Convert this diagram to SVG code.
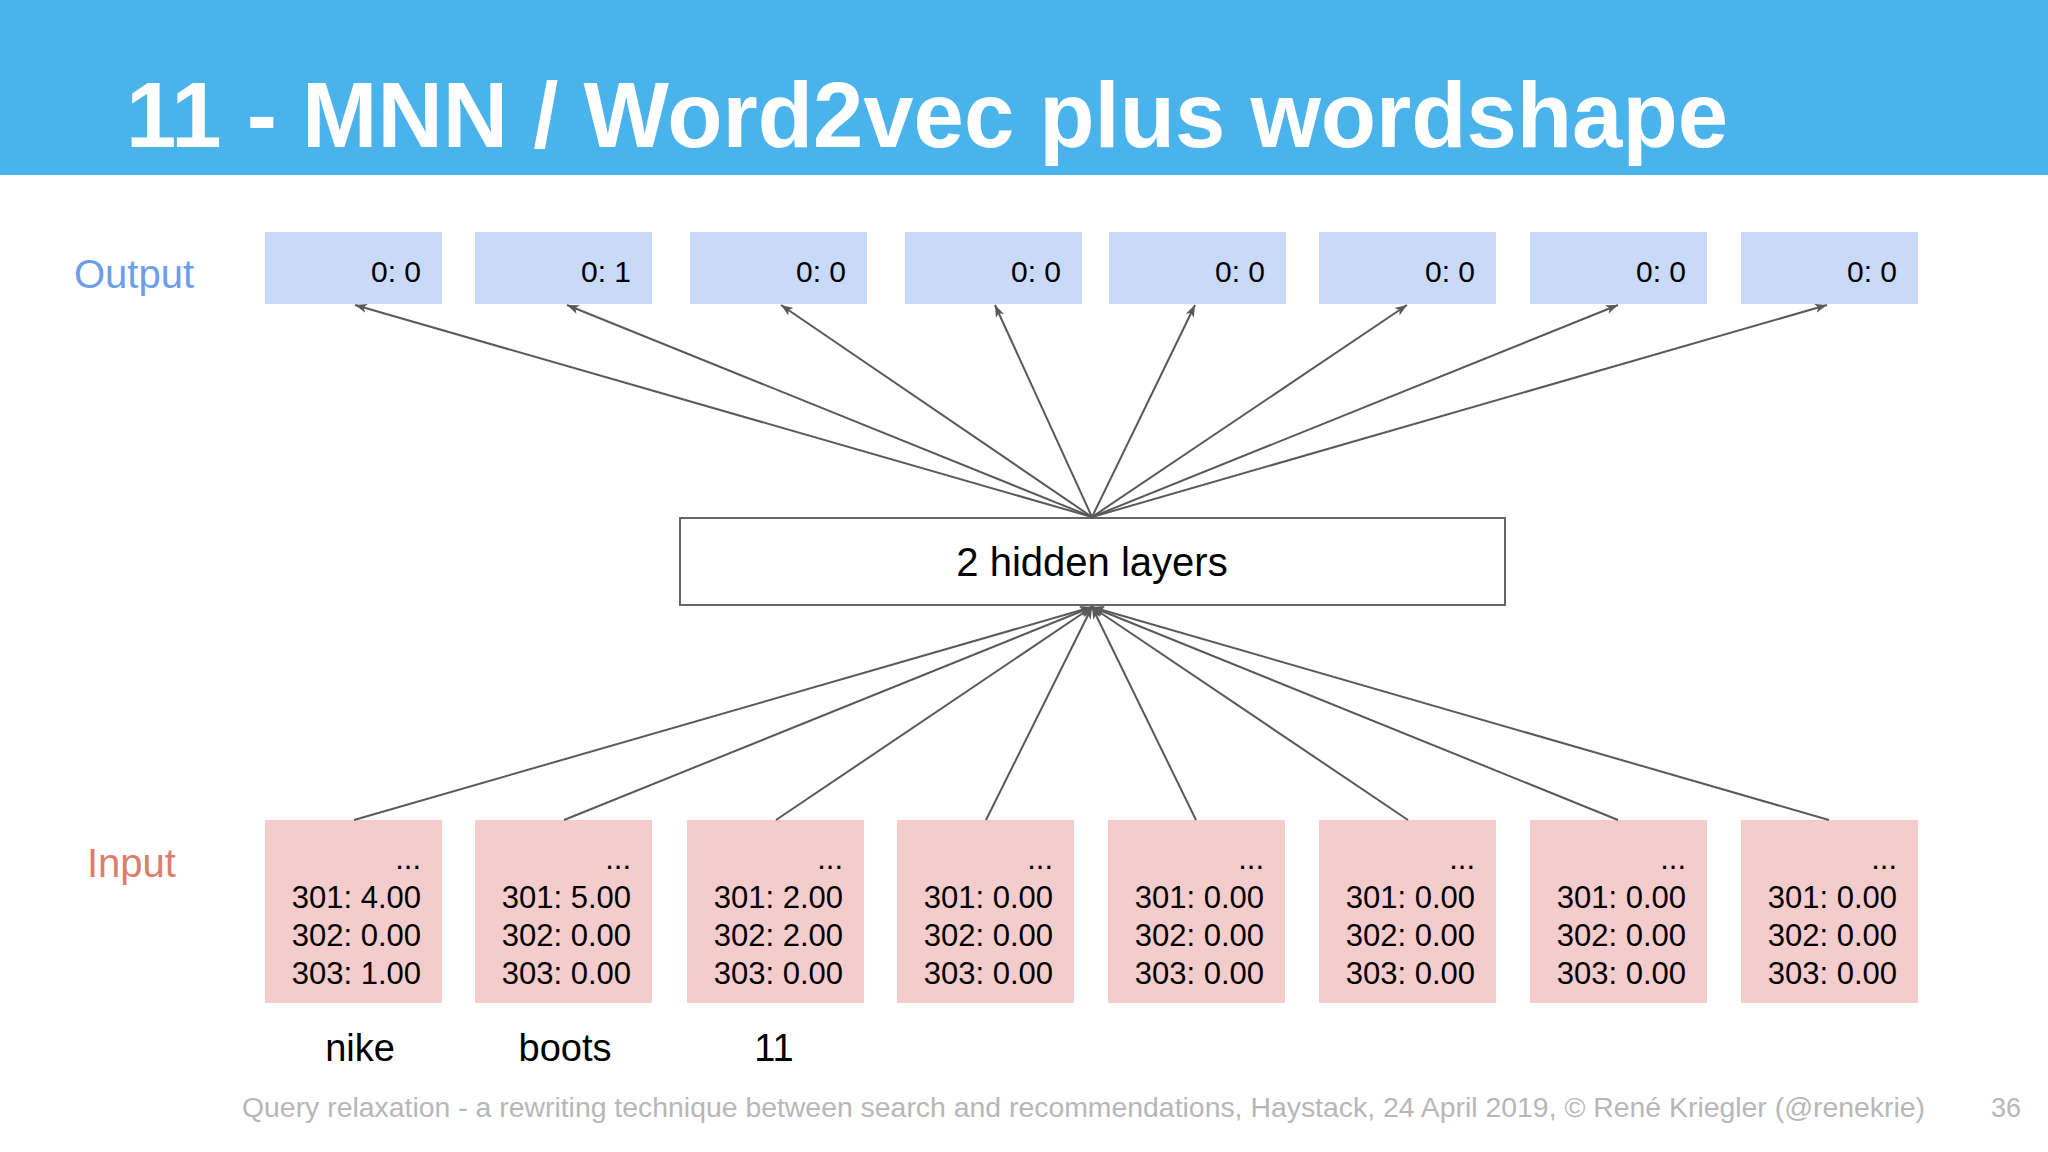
<svg xmlns="http://www.w3.org/2000/svg" width="2048" height="1152" viewBox="0 0 2048 1152">
  <defs>
    <marker id="arr" markerUnits="userSpaceOnUse" markerWidth="14" markerHeight="10" refX="12" refY="5" orient="auto">
      <path d="M0,0.5 L12,5 L0,9.5 L3,5 z" fill="#595959"/>
    </marker>
  </defs>
  <style>
    text { font-family: "Liberation Sans", Arial, sans-serif; }
    .out rect { fill: #c9daf8; }
    .in rect { fill: #f4cccc; }
    .val { font-size: 30px; fill: #000; text-anchor: end; }
    .in .val { font-size: 31px; }
    .word { font-size: 38px; fill: #000; text-anchor: middle; }
    .conn line { stroke: #595959; stroke-width: 2; fill: none; }
  </style>
  <rect x="0" y="0" width="2048" height="1152" fill="#ffffff"/>
  <g id="header">
    <rect x="0" y="0" width="2048" height="175" fill="#4bb3eb"/>
    <text x="126" y="147" font-size="92" font-weight="bold" fill="#ffffff" textLength="1602" lengthAdjust="spacingAndGlyphs">11 - MNN / Word2vec plus wordshape</text>
  </g>
  <text id="label-output" x="74" y="288" font-size="40" fill="#6d9eeb">Output</text>
  <text id="label-input" x="87" y="877" font-size="40" fill="#dd7e6b">Input</text>

  <g id="output-nodes" class="out">
    <g id="out1"><rect x="265" y="232" width="177" height="72"/><text class="val" x="421" y="282">0: 0</text></g>
    <g id="out2"><rect x="475" y="232" width="177" height="72"/><text class="val" x="631" y="282">0: 1</text></g>
    <g id="out3"><rect x="690" y="232" width="177" height="72"/><text class="val" x="846" y="282">0: 0</text></g>
    <g id="out4"><rect x="905" y="232" width="177" height="72"/><text class="val" x="1061" y="282">0: 0</text></g>
    <g id="out5"><rect x="1109" y="232" width="177" height="72"/><text class="val" x="1265" y="282">0: 0</text></g>
    <g id="out6"><rect x="1319" y="232" width="177" height="72"/><text class="val" x="1475" y="282">0: 0</text></g>
    <g id="out7"><rect x="1530" y="232" width="177" height="72"/><text class="val" x="1686" y="282">0: 0</text></g>
    <g id="out8"><rect x="1741" y="232" width="177" height="72"/><text class="val" x="1897" y="282">0: 0</text></g>
  </g>

  <g id="hidden">
    <rect x="680" y="518" width="825" height="87" fill="#ffffff" stroke="#666666" stroke-width="2"/>
    <text x="1092" y="576" font-size="40" fill="#000" text-anchor="middle">2 hidden layers</text>
  </g>

  <g id="input-nodes" class="in">
    <g id="in1"><rect x="265" y="820" width="177" height="183"/>
      <text class="val" x="421" y="869">...</text><text class="val" x="421" y="908">301: 4.00</text><text class="val" x="421" y="946">302: 0.00</text><text class="val" x="421" y="984">303: 1.00</text></g>
    <g id="in2"><rect x="475" y="820" width="177" height="183"/>
      <text class="val" x="631" y="869">...</text><text class="val" x="631" y="908">301: 5.00</text><text class="val" x="631" y="946">302: 0.00</text><text class="val" x="631" y="984">303: 0.00</text></g>
    <g id="in3"><rect x="687" y="820" width="177" height="183"/>
      <text class="val" x="843" y="869">...</text><text class="val" x="843" y="908">301: 2.00</text><text class="val" x="843" y="946">302: 2.00</text><text class="val" x="843" y="984">303: 0.00</text></g>
    <g id="in4"><rect x="897" y="820" width="177" height="183"/>
      <text class="val" x="1053" y="869">...</text><text class="val" x="1053" y="908">301: 0.00</text><text class="val" x="1053" y="946">302: 0.00</text><text class="val" x="1053" y="984">303: 0.00</text></g>
    <g id="in5"><rect x="1108" y="820" width="177" height="183"/>
      <text class="val" x="1264" y="869">...</text><text class="val" x="1264" y="908">301: 0.00</text><text class="val" x="1264" y="946">302: 0.00</text><text class="val" x="1264" y="984">303: 0.00</text></g>
    <g id="in6"><rect x="1319" y="820" width="177" height="183"/>
      <text class="val" x="1475" y="869">...</text><text class="val" x="1475" y="908">301: 0.00</text><text class="val" x="1475" y="946">302: 0.00</text><text class="val" x="1475" y="984">303: 0.00</text></g>
    <g id="in7"><rect x="1530" y="820" width="177" height="183"/>
      <text class="val" x="1686" y="869">...</text><text class="val" x="1686" y="908">301: 0.00</text><text class="val" x="1686" y="946">302: 0.00</text><text class="val" x="1686" y="984">303: 0.00</text></g>
    <g id="in8"><rect x="1741" y="820" width="177" height="183"/>
      <text class="val" x="1897" y="869">...</text><text class="val" x="1897" y="908">301: 0.00</text><text class="val" x="1897" y="946">302: 0.00</text><text class="val" x="1897" y="984">303: 0.00</text></g>
  </g>

  <g id="words">
    <text class="word" x="360" y="1061">nike</text>
    <text class="word" x="565" y="1061">boots</text>
    <text class="word" x="774" y="1061">11</text>
  </g>

  <g id="connectors" class="conn">
    <line x1="1092" y1="517" x2="355" y2="305" marker-end="url(#arr)"/>
    <line x1="1092" y1="517" x2="567" y2="305" marker-end="url(#arr)"/>
    <line x1="1092" y1="517" x2="781" y2="305" marker-end="url(#arr)"/>
    <line x1="1092" y1="517" x2="995" y2="305" marker-end="url(#arr)"/>
    <line x1="1092" y1="517" x2="1195" y2="305" marker-end="url(#arr)"/>
    <line x1="1092" y1="517" x2="1407" y2="305" marker-end="url(#arr)"/>
    <line x1="1092" y1="517" x2="1618" y2="305" marker-end="url(#arr)"/>
    <line x1="1092" y1="517" x2="1827" y2="305" marker-end="url(#arr)"/>
    <line x1="354" y1="820" x2="1092" y2="607" marker-end="url(#arr)"/>
    <line x1="564" y1="820" x2="1092" y2="607" marker-end="url(#arr)"/>
    <line x1="776" y1="820" x2="1092" y2="607" marker-end="url(#arr)"/>
    <line x1="986" y1="820" x2="1092" y2="607" marker-end="url(#arr)"/>
    <line x1="1196" y1="820" x2="1092" y2="607" marker-end="url(#arr)"/>
    <line x1="1408" y1="820" x2="1092" y2="607" marker-end="url(#arr)"/>
    <line x1="1618" y1="820" x2="1092" y2="607" marker-end="url(#arr)"/>
    <line x1="1829" y1="820" x2="1092" y2="607" marker-end="url(#arr)"/>
  </g>

  <g id="footer">
    <text x="242" y="1117" font-size="27" fill="#b7b7b7" textLength="1683" lengthAdjust="spacingAndGlyphs">Query relaxation - a rewriting technique between search and recommendations, Haystack, 24 April 2019, © René Kriegler (@renekrie)</text>
    <text x="1991" y="1117" font-size="27" fill="#b7b7b7">36</text>
  </g>
</svg>
